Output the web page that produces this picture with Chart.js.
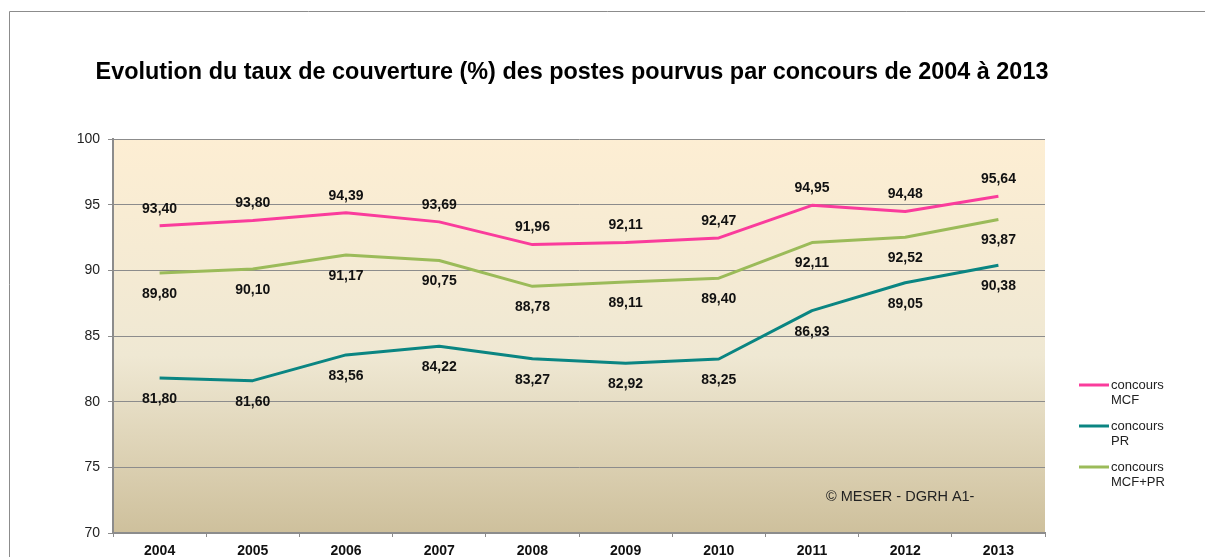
<!DOCTYPE html>
<html lang="fr">
<head>
<meta charset="utf-8">
<title>Taux de couverture</title>
<script src="https://cdn.jsdelivr.net/npm/chart.js@4/dist/chart.umd.min.js"></script>
<style>
  html, body { margin: 0; padding: 0; background: #fff; }
  #wrap { width: 1205px; height: 557px; }
</style>
</head>
<body>
<div id="wrap"><canvas id="chart" width="1205" height="557"></canvas></div>
<script>
// Data
const years = ['2004', '2005', '2006', '2007', '2008', '2009', '2010', '2011', '2012', '2013'];
const mcf = [93.40, 93.80, 94.39, 93.69, 91.96, 92.11, 92.47, 94.95, 94.48, 95.64];
const pr = [81.80, 81.60, 83.56, 84.22, 83.27, 82.92, 83.25, 86.93, 89.05, 90.38];
const mcfPr = [89.80, 90.10, 91.17, 90.75, 88.78, 89.11, 89.40, 92.11, 92.52, 93.87];
const seriesNames = ['concours MCF', 'concours PR', 'concours MCF+PR'];
const legendLines = [['concours', 'MCF'], ['concours', 'PR'], ['concours', 'MCF+PR']];
const yTicks = [70, 75, 80, 85, 90, 95, 100];

const titleText = 'Evolution du taux de couverture (%) des postes pourvus par concours de 2004 à 2013';
const sourceText = '© MESER - DGRH A1-';

const colors = ['#FA3C9C', '#0A8582', '#9BBB59'];
const labelOffsets = [-17, 21, 21];
const FONT = '"Liberation Sans", Arial, sans-serif';

function fmt(v) {
    return v.toFixed(2).replace('.', ',');
}

// Plot background, frame, title, labels and legend
const decorPlugin = {
    id: 'decor',
    beforeDraw(chart) {
        const ctx = chart.ctx;
        const a = chart.chartArea;
        ctx.save();
        // outer frame
        ctx.strokeStyle = '#8c8c8c';
        ctx.lineWidth = 1;
        ctx.beginPath();
        ctx.moveTo(9.5, 557);
        ctx.lineTo(9.5, 11.5);
        ctx.lineTo(1205, 11.5);
        ctx.stroke();
        // plot gradient
        const g = ctx.createLinearGradient(0, a.top, 0, a.bottom);
        g.addColorStop(0, '#FDEED3');
        g.addColorStop(0.55, '#EFE8D3');
        g.addColorStop(1, '#CEC09C');
        ctx.fillStyle = g;
        ctx.fillRect(a.left, a.top, a.right - a.left, a.bottom - a.top);
        // title
        ctx.fillStyle = '#000';
        ctx.font = 'bold 23.4px ' + FONT;
        ctx.textAlign = 'center';
        ctx.textBaseline = 'middle';
        ctx.fillText(titleText, 572, 73);
        ctx.restore();
    },
    afterDatasetsDraw(chart) {
        const ctx = chart.ctx;
        ctx.save();
        ctx.font = 'bold 14px ' + FONT;
        ctx.fillStyle = '#111';
        ctx.textAlign = 'center';
        ctx.textBaseline = 'middle';
        chart.data.datasets.forEach((ds, i) => {
            const meta = chart.getDatasetMeta(i);
            meta.data.forEach((pt, j) => {
                ctx.fillText(fmt(ds.data[j]), pt.x, pt.y + labelOffsets[i]);
            });
        });
        // source note
        ctx.font = '14.5px ' + FONT;
        ctx.fillStyle = '#222';
        ctx.textAlign = 'left';
        ctx.fillText(sourceText, 826, 497);
        // legend
        ctx.font = '13px ' + FONT;
        legendLines.forEach((lines, i) => {
            const y0 = 385 + i * 41;
            ctx.strokeStyle = colors[i];
            ctx.lineWidth = 3;
            ctx.beginPath();
            ctx.moveTo(1079, y0);
            ctx.lineTo(1109, y0);
            ctx.stroke();
            ctx.fillStyle = '#222';
            lines.forEach((t, k) => ctx.fillText(t, 1111, y0 + k * 15.5));
        });
        ctx.restore();
    }
};

const ctx = document.getElementById('chart').getContext('2d');
new Chart(ctx, {
    type: 'line',
    data: {
        labels: years,
        datasets: [mcf, pr, mcfPr].map((d, i) => ({
            label: seriesNames[i],
            data: d,
            borderColor: colors[i],
            backgroundColor: colors[i],
            borderWidth: 3,
            pointRadius: 0,
            tension: 0,
            fill: false,
            borderJoinStyle: 'round'
        }))
    },
    options: {
        responsive: false,
        animation: false,
        devicePixelRatio: 1,
        layout: { padding: { top: 139, right: 160, bottom: 0, left: 0 } },
        plugins: {
            legend: { display: false },
            title: { display: false },
            tooltip: { enabled: false }
        },
        scales: {
            x: {
                offset: true,
                afterFit(scale) { scale.height = 24; },
                grid: {
                    offset: true,
                    drawOnChartArea: false,
                    drawTicks: true,
                    tickLength: 4,
                    color: '#8c8c8c'
                },
                border: { color: '#8c8c8c', width: 2 },
                ticks: {
                    color: '#111',
                    padding: 6,
                    maxRotation: 0,
                    font: { family: FONT, size: 14, weight: 'bold' }
                }
            },
            y: {
                min: 70,
                max: 100,
                afterFit(scale) { scale.width = 113; },
                afterBuildTicks(scale) { scale.ticks = yTicks.map(v => ({ value: v })); },
                grid: { color: '#8c8c8c', lineWidth: 1, tickLength: 5 },
                border: { color: '#8c8c8c', width: 2 },
                ticks: {
                    color: '#222',
                    padding: 8,
                    font: { family: FONT, size: 14 }
                }
            }
        }
    },
    plugins: [decorPlugin]
});
</script>
</body>
</html>
